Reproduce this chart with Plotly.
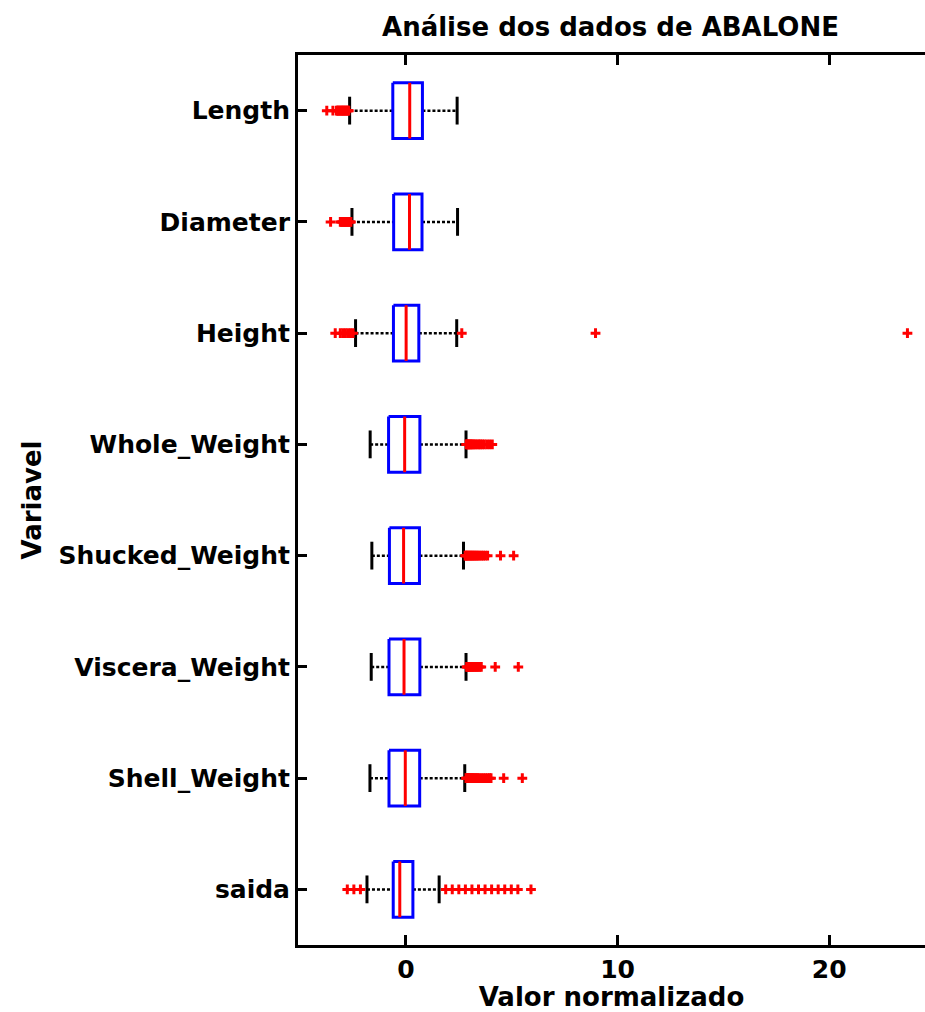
import plotly.graph_objects as go

# ---------------- data (normalized values) ----------------
categories = ["Length", "Diameter", "Height", "Whole_Weight", "Shucked_Weight",
              "Viscera_Weight", "Shell_Weight", "saida"]
q1_values = [-0.62, -0.58, -0.59, -0.82, -0.78, -0.80, -0.80, -0.60]
median_values = [0.18, 0.17, 0.01, -0.06, -0.11, -0.09, -0.03, -0.29]
q3_values = [0.78, 0.76, 0.61, 0.66, 0.64, 0.66, 0.65, 0.33]
lower_whiskers = [-2.66, -2.55, -2.38, -1.69, -1.61, -1.64, -1.70, -1.84]
upper_whiskers = [2.42, 2.44, 2.40, 2.84, 2.72, 2.84, 2.78, 1.57]

outliers_length = [-3.74, -3.45, -3.28, -3.24, -3.20, -3.16, -3.11, -3.07, -3.03, -2.99,
                   -2.95, -2.91, -2.86, -2.82, -2.78, -2.74, -2.70]
outliers_diameter = [-3.56, -3.10, -3.05, -3.00, -2.95, -2.90, -2.85, -2.80, -2.75,
                     -2.70, -2.65, -2.60]
outliers_height = [-3.34, -3.10, -2.98, -2.86, -2.74, -2.62, -2.50, 2.64, 8.96, 23.70]
outliers_whole = [2.85, 2.88, 2.92, 2.96, 3.00, 3.05, 3.10, 3.15, 3.22, 3.28, 3.37,
                  3.45, 3.52, 3.61, 3.70, 3.82, 3.95, 4.08]
outliers_shucked = [2.80, 2.84, 2.88, 2.93, 2.98, 3.03, 3.08, 3.13, 3.18, 3.24, 3.30,
                    3.36, 3.42, 3.50, 3.58, 3.66, 3.75, 3.86, 4.47, 5.09]
outliers_viscera = [2.87, 2.91, 2.95, 2.99, 3.03, 3.08, 3.13, 3.18, 3.24, 3.30, 3.36,
                    3.42, 3.49, 3.56, 4.22, 5.31]
outliers_shell = [2.84, 2.88, 2.92, 2.96, 3.00, 3.05, 3.10, 3.15, 3.20, 3.26, 3.32,
                  3.38, 3.45, 3.55, 3.65, 3.75, 3.85, 3.95, 4.02, 4.62, 5.50]
outliers_saida = [-2.77, -2.46, -2.15, 1.88, 2.19, 2.50, 2.81, 3.12, 3.43, 3.74, 4.05,
                  4.36, 4.67, 4.98, 5.29, 5.91]
outliers = [outliers_length, outliers_diameter, outliers_height, outliers_whole,
            outliers_shucked, outliers_viscera, outliers_shell, outliers_saida]

x_ticks = [0, 10, 20]
title_text = "Análise dos dados de ABALONE"
x_title = "Valor normalizado"
y_title = "Variavel"

# ---------------- styling ----------------
FONT = "DejaVu Sans"
FS_TICK = 25
FS_TITLE = 26
BOX_H = 0.25
CAP_H = 0.125

positions = list(range(len(categories)))

box_x, box_y = [], []
med_x, med_y = [], []
wh_x, wh_y = [], []
cap_x, cap_y = [], []
out_x, out_y = [], []
for i, p in enumerate(positions):
    q1, q3, md = q1_values[i], q3_values[i], median_values[i]
    lw, uw = lower_whiskers[i], upper_whiskers[i]
    box_x += [q1, q3, q3, q1, q1, None]
    box_y += [p - BOX_H, p - BOX_H, p + BOX_H, p + BOX_H, p - BOX_H, None]
    med_x += [md, md, None]
    med_y += [p - BOX_H, p + BOX_H, None]
    wh_x += [lw, q1, None, q3, uw, None]
    wh_y += [p, p, None, p, p, None]
    cap_x += [lw, lw, None, uw, uw, None]
    cap_y += [p - CAP_H, p + CAP_H, None, p - CAP_H, p + CAP_H, None]
    out_x += outliers[i]
    out_y += [p] * len(outliers[i])

fig = go.Figure()
fig.add_trace(go.Scatter(x=wh_x, y=wh_y, mode="lines",
                         line=dict(color="black", width=2.5, dash="3px,2px"),
                         hoverinfo="skip", showlegend=False))
fig.add_trace(go.Scatter(x=cap_x, y=cap_y, mode="lines",
                         line=dict(color="black", width=3),
                         hoverinfo="skip", showlegend=False))
fig.add_trace(go.Scatter(x=box_x, y=box_y, mode="lines",
                         line=dict(color="#0000FF", width=3),
                         hoverinfo="skip", showlegend=False))
fig.add_trace(go.Scatter(x=med_x, y=med_y, mode="lines",
                         line=dict(color="#FF0000", width=3),
                         hoverinfo="skip", showlegend=False))
fig.add_trace(go.Scatter(x=out_x, y=out_y, mode="markers",
                         marker=dict(symbol="cross-thin", size=7,
                                     line=dict(color="#FF0000", width=3)),
                         showlegend=False))

tick_font = dict(family=FONT, size=FS_TICK, color="black", weight="bold")
title_font = dict(family=FONT, size=FS_TITLE, color="black", weight="bold")

fig.update_layout(
    width=925, height=1012,
    margin=dict(l=298, r=0, t=55, b=65),
    plot_bgcolor="white", paper_bgcolor="white",
    font=tick_font,
    title=dict(text=title_text, x=0.66, xanchor="center", y=0.973, yanchor="middle",
               font=title_font),
    xaxis=dict(range=[-5.1, 24.53], tickvals=x_ticks, ticktext=[str(t) for t in x_ticks],
               ticks="inside", ticklen=10, tickwidth=2.5, tickcolor="black",
               showline=True, linewidth=3, linecolor="black", mirror="ticks",
               showgrid=False, zeroline=False, tickfont=tick_font,
               title=dict(text=x_title, font=title_font, standoff=10)),
    yaxis=dict(range=[7.5, -0.5], tickvals=positions, ticktext=categories,
               ticks="inside", ticklen=9, tickwidth=3, tickcolor="black",
               showline=True, linewidth=3, linecolor="black", mirror=False,
               showgrid=False, zeroline=False, tickfont=tick_font,
               title=dict(text=y_title, font=title_font, standoff=10)),
)

fig.write_html("out.html", config={"displayModeBar": False},
               post_script="document.body.style.margin='0px';document.body.style.overflow='hidden';")
